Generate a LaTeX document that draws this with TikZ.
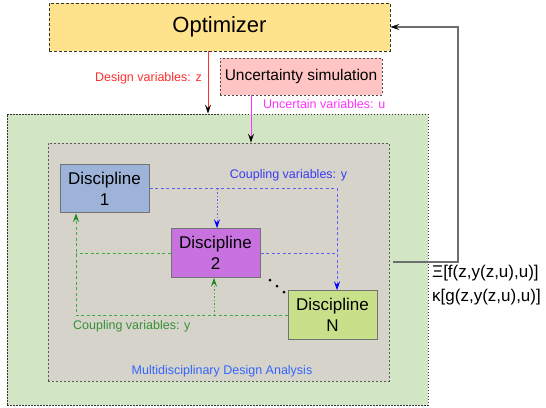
\documentclass[tikz,border=0pt]{standalone}
\usepackage{fontspec}
\setmainfont{Liberation Sans}
\usetikzlibrary{arrows.meta}
\definecolor{optfill}{HTML}{FFE38C}
\definecolor{uncfill}{HTML}{FFC4C4}
\definecolor{mdafill}{HTML}{D2E5C5}
\definecolor{grayfill}{HTML}{D6D3CB}
\definecolor{d1fill}{HTML}{9DB4D8}
\definecolor{d2fill}{HTML}{C872E0}
\definecolor{dnfill}{HTML}{C9E08B}
\definecolor{zred}{HTML}{FF2E2E}
\definecolor{umag}{HTML}{FF33FF}
\definecolor{cblue}{HTML}{5F5FF5}
\definecolor{cbluetext}{HTML}{3A3AF5}
\definecolor{cgreen}{HTML}{3FAA3F}
\definecolor{cgreentip}{HTML}{1E8A1E}
\definecolor{mdatext}{HTML}{3366FF}
\definecolor{fbgray}{HTML}{6E6E6E}
\tikzset{
  bigbox/.style={rectangle, inner sep=0pt, draw=black!80, line width=0.8pt},
  discbox/.style={rectangle, inner sep=0pt, draw=black!55, line width=1pt, minimum width=89pt, minimum height=48.5pt, align=center, font=\fontsize{17}{21}\selectfont},
  lbl/.style={inner sep=0pt, font=\fontsize{12.5}{15}\selectfont},
}
\begin{document}
\begin{tikzpicture}[x=1pt,y=-1pt]
\useasboundingbox (0,0) rectangle (546,407);
% big containers
\node[bigbox, fill=mdafill, dash pattern=on 1.5pt off 1.5pt, minimum width=421pt, minimum height=291pt] (mda) at (217.5,259.5) {};
\node[bigbox, fill=grayfill, draw=black!65, dash pattern=on 2pt off 2pt, minimum width=341pt, minimum height=238pt] (mdi) at (218.5,262) {};
\node[bigbox, fill=optfill, dash pattern=on 3pt off 2pt, minimum width=341pt, minimum height=48pt, font=\fontsize{22}{26}\selectfont] (opt) at (219.5,27) {Optimizer};
\node[bigbox, fill=uncfill, draw=black!70, dash pattern=on 2pt off 2pt, minimum width=162pt, minimum height=37pt, font=\fontsize{15.5}{18}\selectfont] (unc) at (301,76.5) {Uncertainty simulation};
% disciplines
\node[discbox, fill=d1fill] (d1) at (104.5,188.5) {Discipline\\1};
\node[discbox, fill=d2fill] (d2) at (215.5,253) {Discipline\\2};
\node[discbox, fill=dnfill] (dn) at (332.5,315) {Discipline\\N};
% helper coordinates
\coordinate (zx) at (208,60);
\coordinate (ux) at (251,100);
\coordinate (bx) at (337,200);
\coordinate (b2x) at (217,200);
\coordinate (gx) at (76,300);
\coordinate (g2x) at (214,300);
\coordinate (fx) at (458,100);
% design variables
\draw[zred, line width=1pt, -{Stealth[length=9pt,width=6pt,inset=3.5pt,black]}] (opt.south -| zx) -- (mda.north -| zx);
\node[lbl, text=zred, anchor=east] (zlbl) at (202,78) {Design variables: z};
% uncertain variables
\draw[umag, line width=1pt, -{Stealth[length=9pt,width=6pt,inset=3.5pt,black]}] (unc.south -| ux) -- (mdi.north -| ux);
\node[lbl, text=umag, anchor=west] (ulbl) at (263,104) {Uncertain variables: u};
% blue coupling
\draw[cblue, line width=1pt, dash pattern=on 3pt off 2.5pt, -{Stealth[length=9pt,width=6pt,inset=3.5pt,blue]}] (d1.east) -- (bx |- d1.east) -- (bx |- dn.north);
\draw[cblue, line width=1pt, dash pattern=on 1.5pt off 2pt, -{Stealth[length=9pt,width=6pt,inset=3.5pt,blue]}] (d1.east -| b2x) -- (d2.north -| b2x);
\draw[cblue, line width=1pt, dash pattern=on 3pt off 2.5pt] (d2.east) -- (bx |- d2.east);
\node[lbl, text=cbluetext] (blbl) at (288.5,175) {Coupling variables: y};
% green coupling
\draw[cgreen, line width=1pt, dash pattern=on 3pt off 2.5pt, -{Stealth[length=9pt,width=6pt,inset=3.5pt,cgreentip]}] (dn.west) -- (gx |- dn.west) -- (gx |- d1.south);
\draw[cgreen, line width=1pt, dash pattern=on 3pt off 2.5pt] (d2.west) -- (gx |- d2.west);
\draw[cgreen, line width=1pt, dash pattern=on 1.5pt off 2pt, -{Stealth[length=9pt,width=6pt,inset=3.5pt,cgreentip]}] (g2x |- dn.west) -- (g2x |- d2.south);
\node[lbl, text=cgreen!85!black, anchor=west] (glbl) at (73,326) {Coupling variables: y};
% dots
\fill (270,280) circle (1.5pt);
\fill (277,286) circle (1.5pt);
\fill (284,292) circle (1.5pt);
% MDA label
\node[lbl, text=mdatext] (mdalbl) at (222,371) {Multidisciplinary Design Analysis};
% feedback
\draw[fbgray, line width=1.1pt, -{Stealth[length=9pt,width=6pt,inset=3.5pt,black]}] ([xshift=4pt]mdi.east) -- (fx |- mdi.east) -- (fx |- opt.east) -- (opt.east);
\node[inner sep=0pt, anchor=west, font=\fontsize{17}{21}\selectfont] (xi) at (432,273) {Ξ[f(z,y(z,u),u)]};
\node[inner sep=0pt, anchor=west, font=\fontsize{17}{21}\selectfont] (ka) at (432,297) {κ[g(z,y(z,u),u)]};
\end{tikzpicture}
\end{document}
